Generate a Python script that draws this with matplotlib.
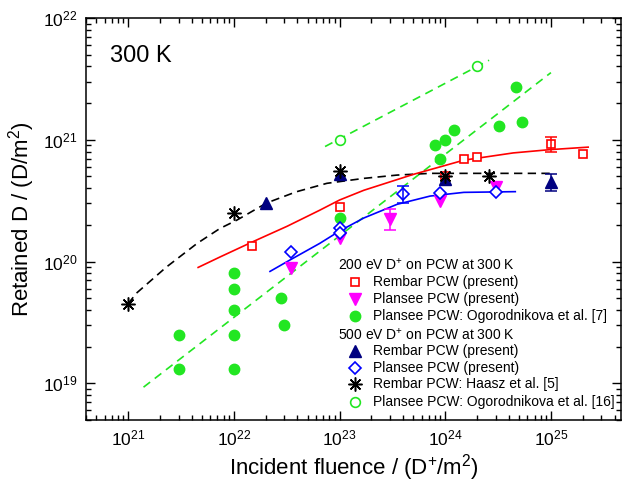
import numpy as np
import matplotlib
matplotlib.use("Agg")
import matplotlib.pyplot as plt
from matplotlib.ticker import LogLocator, NullFormatter

plt.rcParams['font.family'] = ['Liberation Sans', 'DejaVu Sans']
plt.rcParams['mathtext.fontset'] = 'custom'
plt.rcParams['mathtext.rm'] = 'Liberation Sans'
plt.rcParams['mathtext.it'] = 'Liberation Sans:italic'
plt.rcParams['mathtext.bf'] = 'Liberation Sans:bold'

# 200 eV, Rembar PCW (present)
rembar200_x = [1.5e22, 1e23, 1e24, 1.5e24, 2e24, 1e25, 2e25]
rembar200_y = [1.35e20, 2.8e20, 5.0e20, 6.9e20, 7.2e20, 9.3e20, 7.7e20]
rembar200_err_x = [1e25]
rembar200_err_y = [9.3e20]
rembar200_err = [1.3e20]

# 200 eV, Plansee PCW (present)
plansee200_x = [3.5e22, 1e23, 3e23, 9e23, 3e24]
plansee200_y = [8.9e19, 1.55e20, 2.25e20, 3.15e20, 4.1e20]
plansee200_err_x = [3e23]
plansee200_err_y = [2.25e20]
plansee200_err = [4.5e19]

# 200 eV, Plansee PCW: Ogorodnikova et al. [7]
ogor7_x = [3e21, 3e21, 1e22, 1e22, 1e22, 1e22, 1e22, 2.8e22, 3e22, 1e23,
           8e23, 9e23, 1e24, 1.2e24, 3.2e24, 4.7e24, 5.3e24]
ogor7_y = [2.5e19, 1.3e19, 8e19, 6e19, 4e19, 2.5e19, 1.3e19, 5e19, 3e19, 2.3e20,
           9e20, 7e20, 1e21, 1.2e21, 1.3e21, 2.7e21, 1.4e21]

# 500 eV, Rembar PCW (present)
rembar500_x = [2e22, 1e23, 1e24, 1e25]
rembar500_y = [3.0e20, 5.2e20, 4.8e20, 4.5e20]
rembar500_err_x = [1e25]
rembar500_err_y = [4.5e20]
rembar500_err = [7e19]

# 500 eV, Plansee PCW (present)
plansee500_x = [3.5e22, 1e23, 1e23, 4e23, 9e23, 3e24]
plansee500_y = [1.2e20, 1.9e20, 1.7e20, 3.6e20, 3.65e20, 3.75e20]
plansee500_err_x = [4e23]
plansee500_err_y = [3.6e20]
plansee500_err = [5.5e19]

# 500 eV, Rembar PCW: Haasz et al. [5]
haasz_x = [1e21, 1e22, 1e23, 1e24, 2.6e24]
haasz_y = [4.5e19, 2.5e20, 5.5e20, 5e20, 5e20]

# 500 eV, Plansee PCW: Ogorodnikova et al. [16]
ogor16_x = [1e23, 2e24]
ogor16_y = [1e21, 4e21]

# guide curves
fit_haasz_x = [1.0e21, 1.2e21, 2.3e21, 4.5e21, 7.4e21, 1.07e22, 2.05e22, 3.9e22,
               7.6e22, 1.7e23, 3.5e23, 7.2e23, 1e25]
fit_haasz_y = [4.5e19, 5.5e19, 9.0e19, 1.41e20, 1.87e20, 2.19e20, 3.03e20, 3.74e20,
               4.39e20, 4.82e20, 5.13e20, 5.3e20, 5.3e20]
fit_rembar_x = [4.6e21, 7.4e21, 1.5e22, 3.2e22, 6.5e22, 1e23, 1.7e23, 5e23, 1.5e24,
                4.4e24, 9.8e24, 2.25e25]
fit_rembar_y = [8.95e19, 1.09e20, 1.45e20, 1.95e20, 2.64e20, 3.2e20, 3.85e20, 5.2e20, 6.8e20,
                7.8e20, 8.3e20, 8.7e20]
fit_plansee_x = [2.2e22, 3.4e22, 6.5e22, 1e23, 1.7e23, 3.5e23, 7.2e23, 1.5e24, 4.6e24]
fit_plansee_y = [8.3e19, 1.03e20, 1.41e20, 1.78e20, 2.28e20, 2.95e20, 3.45e20, 3.7e20, 3.75e20]
fit_ogor7_x = [1.4e21, 1e25]
fit_ogor7_y = [9.3e18, 3.56e21]
fit_ogor16_x = [7.3e22, 2.6e24]
fit_ogor16_y = [8.8e20, 4.5e21]

RED = '#ff0000'
MAG = '#ff00ff'
GREEN = '#22e622'
NAVY = '#000080'
BLUE = '#0000ff'

fig = plt.figure(figsize=(6.3, 4.88), dpi=100)
ax = fig.add_axes([86 / 630, 68 / 488, 535 / 630, 402 / 488])
ax.set_xscale('log')
ax.set_yscale('log')
ax.set_xlim(4e20, 4.6e25)
ax.set_ylim(5e18, 1e22)

# lines
ax.plot(fit_ogor7_x, fit_ogor7_y, color=GREEN, lw=1.2, dashes=(5, 3.5), zorder=2)
ax.plot(fit_ogor16_x, fit_ogor16_y, color=GREEN, lw=1.2, dashes=(5, 3.5), zorder=2)
ax.plot(fit_haasz_x, fit_haasz_y, color='k', lw=1.2, dashes=(5, 3.2), zorder=2)
ax.plot(fit_rembar_x, fit_rembar_y, color=RED, lw=1.2, zorder=2)
ax.plot(fit_plansee_x, fit_plansee_y, color=BLUE, lw=1.2, zorder=2)

# markers
ax.plot(ogor7_x, ogor7_y, 'o', color=GREEN, ms=7.5, mec=GREEN, zorder=3)
ax.plot(rembar200_x, rembar200_y, 's', mfc='white', mec=RED, mew=1.2, ms=6, zorder=4)
ax.plot(plansee200_x, plansee200_y, 'v', color=MAG, ms=8, zorder=4)
ax.plot(ogor16_x, ogor16_y, 'o', mfc='white', mec=GREEN, mew=1.2, ms=7, zorder=4)
ax.plot(plansee500_x, plansee500_y, 'D', mfc='white', mec=BLUE, mew=1.2, ms=6, zorder=5)
ax.plot(rembar500_x, rembar500_y, '^', color=NAVY, ms=8, zorder=5)
ax.plot(haasz_x, haasz_y, marker=(8, 2, 0), ls='none', color='k', mew=1.1, ms=10, zorder=6)

# error bars
ax.errorbar(rembar200_err_x, rembar200_err_y, yerr=rembar200_err, fmt='none',
            ecolor=RED, elinewidth=1.1, capsize=4, capthick=1.1, zorder=4)
ax.errorbar(plansee200_err_x, plansee200_err_y, yerr=plansee200_err, fmt='none',
            ecolor=MAG, elinewidth=1.1, capsize=4, capthick=1.1, zorder=4)
ax.errorbar(plansee500_err_x, plansee500_err_y, yerr=plansee500_err, fmt='none',
            ecolor=BLUE, elinewidth=1.1, capsize=4, capthick=1.1, zorder=5)
ax.errorbar(rembar500_err_x, rembar500_err_y, yerr=rembar500_err, fmt='none',
            ecolor=NAVY, elinewidth=1.1, capsize=4, capthick=1.1, zorder=5)

# axes styling
for sp in ax.spines.values():
    sp.set_linewidth(1.1)
ax.xaxis.set_major_locator(LogLocator(base=10, numticks=20))
ax.xaxis.set_minor_locator(LogLocator(base=10, subs=np.arange(2, 10), numticks=20))
ax.yaxis.set_major_locator(LogLocator(base=10, numticks=20))
ax.yaxis.set_minor_locator(LogLocator(base=10, subs=np.arange(2, 10), numticks=20))
ax.xaxis.set_minor_formatter(NullFormatter())
ax.yaxis.set_minor_formatter(NullFormatter())
ax.tick_params(which='both', direction='in', top=True, right=True, width=1.0)
ax.tick_params(which='major', length=6.5, labelsize=12.5, pad=6)
ax.tick_params(which='minor', length=3.5)

ax.set_xlabel('Incident fluence / (D$^{+}$/m$^{2}$)', fontsize=16, labelpad=3)
ax.set_ylabel('Retained D / (D/m$^{2}$)', fontsize=16, labelpad=4)

ax.text(0.045, 0.905, '300 K', transform=ax.transAxes, fontsize=17, va='center', ha='left')

# legend drawn by hand (headers sit left of the markers)
hx, mx, tx = 0.471, 0.503, 0.536
rows = [0.386, 0.344, 0.301, 0.259, 0.213, 0.172, 0.130, 0.089, 0.044]
fs = 10
ax.text(hx, rows[0], '200 eV D$^{+}$ on PCW at 300 K', transform=ax.transAxes,
        fontsize=fs, va='center')
ax.text(hx, rows[4], '500 eV D$^{+}$ on PCW at 300 K', transform=ax.transAxes,
        fontsize=fs, va='center')
entries = [
    (1, dict(marker='s', mfc='white', mec=RED, mew=1.2, ms=6), 'Rembar PCW (present)'),
    (2, dict(marker='v', color=MAG, ms=8), 'Plansee PCW (present)'),
    (3, dict(marker='o', color=GREEN, ms=7.5), 'Plansee PCW: Ogorodnikova et al. [7]'),
    (5, dict(marker='^', color=NAVY, ms=8), 'Rembar PCW (present)'),
    (6, dict(marker='D', mfc='white', mec=BLUE, mew=1.2, ms=6), 'Plansee PCW (present)'),
    (7, dict(marker=(8, 2, 0), color='k', mew=1.1, ms=10), 'Rembar PCW: Haasz et al. [5]'),
    (8, dict(marker='o', mfc='white', mec=GREEN, mew=1.2, ms=7), 'Plansee PCW: Ogorodnikova et al. [16]'),
]
for r, style, label in entries:
    ax.plot([mx], [rows[r]], ls='none', transform=ax.transAxes, clip_on=False,
            zorder=7, **style)
    ax.text(tx, rows[r], label, transform=ax.transAxes, fontsize=fs, va='center')

fig.savefig('out.png', dpi=100)
